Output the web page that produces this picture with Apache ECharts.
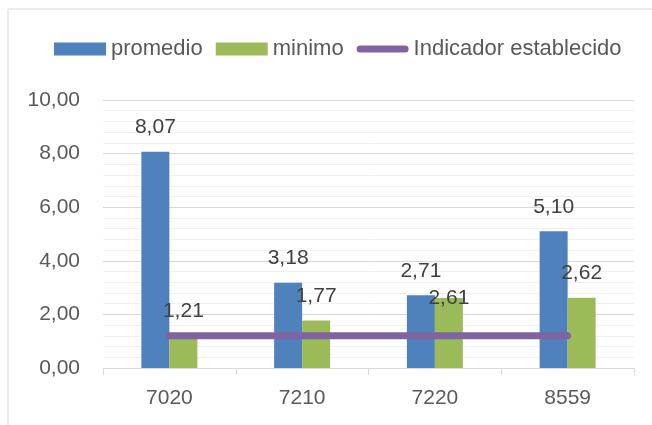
<!DOCTYPE html>
<html>
<head>
<meta charset="utf-8">
<script src="https://cdn.jsdelivr.net/npm/echarts@6/dist/echarts.min.js"></script>
<style>
  html, body { margin: 0; padding: 0; background: #fff; }
  #chart { width: 652px; height: 425px; }
</style>
</head>
<body>
<div id="chart"></div>
<script>
const categories = ['7020', '7210', '7220', '8559'];
const promedio = [8.07, 3.18, 2.71, 5.10];
const minimo = [1.21, 1.77, 2.61, 2.62];
const indicador = [1.2, 1.2, 1.2, 1.2];

const FONT = 'Liberation Sans';
const TXT = '#595959';
const comma = v => Number(v).toFixed(2).replace('.', ',');
// thick rounded bar inside a 52x13 box, for the line entry of the legend
const lineIcon = 'path://M0,0 M52,13 M3.5,3 L48.5,3 A3.5,3.5 0 0 1 48.5,10 L3.5,10 A3.5,3.5 0 0 1 3.5,3 Z';

let chart = echarts.init(document.getElementById('chart'));
let option = {
  animation: false,
  textStyle: { fontFamily: FONT },
  graphic: [{
    type: 'rect',
    shape: { x: 8, y: 9, width: 700, height: 500 },
    style: { fill: 'none', stroke: '#d9d9d9', lineWidth: 1 },
    silent: true
  }],
  legend: {
    left: 54,
    top: 38,
    padding: 0,
    itemWidth: 52,
    itemHeight: 13,
    itemGap: 13,
    textStyle: { fontSize: 22, color: TXT, fontFamily: FONT },
    data: [
      { name: 'promedio', icon: 'rect' },
      { name: 'minimo', icon: 'rect' },
      { name: 'Indicador establecido', icon: lineIcon, itemStyle: { color: '#8064a2', borderWidth: 0 } }
    ]
  },
  grid: { left: 103, right: 18, top: 100, bottom: 57 },
  xAxis: {
    type: 'category',
    data: categories,
    axisLine: { lineStyle: { color: '#d9d9d9' } },
    axisTick: { show: true, length: 7, lineStyle: { color: '#d9d9d9' } },
    axisLabel: { fontSize: 21, color: TXT, margin: 20, fontFamily: FONT }
  },
  yAxis: {
    type: 'value',
    min: 0,
    max: 10,
    interval: 2,
    axisLine: { show: false },
    axisTick: { show: false },
    axisLabel: { fontSize: 21, color: TXT, margin: 23, fontFamily: FONT, formatter: comma },
    splitLine: { lineStyle: { color: '#d9d9d9' } },
    minorTick: { show: false, splitNumber: 5 },
    minorSplitLine: { show: true, lineStyle: { color: '#f0f0f0' } }
  },
  series: [
    {
      name: 'promedio',
      type: 'bar',
      data: promedio,
      barWidth: 28,
      barGap: '0%',
      itemStyle: { color: '#4f81bd' },
      label: {
        show: true, position: 'top', distance: 14,
        fontSize: 21, color: '#404040', fontFamily: FONT,
        formatter: p => comma(p.value)
      }
    },
    {
      name: 'minimo',
      type: 'bar',
      data: minimo.map((v, i) => i === 2 ? { value: v, label: { offset: [0, 25] } } : v),
      barWidth: 28,
      itemStyle: { color: '#9bbb59' },
      label: {
        show: true, position: 'top', distance: 14,
        fontSize: 21, color: '#404040', fontFamily: FONT,
        formatter: p => comma(p.value)
      }
    },
    {
      name: 'Indicador establecido',
      type: 'line',
      data: indicador,
      symbol: 'none',
      z: 3,
      lineStyle: { color: '#8064a2', width: 7, cap: 'round' },
      itemStyle: { color: '#8064a2' }
    }
  ]
};
chart.setOption(option);
</script>
</body>
</html>
